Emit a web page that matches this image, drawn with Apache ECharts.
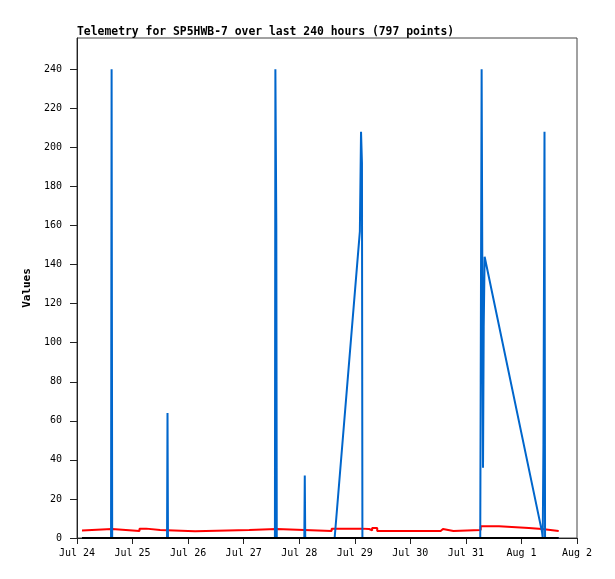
<!DOCTYPE html>
<html>
<head>
<meta charset="utf-8">
<script src="https://cdn.jsdelivr.net/npm/echarts@6/dist/echarts.min.js"></script>
<style>
  html, body { margin: 0; padding: 0; background: #fff; }
  #chart { width: 615px; height: 579px; }
</style>
</head>
<body>
<div id="chart"></div>
<script>
// hours since Jul 24 00:00
const dayLabels = ['Jul 24', 'Jul 25', 'Jul 26', 'Jul 27', 'Jul 28', 'Jul 29', 'Jul 30', 'Jul 31', 'Aug 1', 'Aug 2'];
const yTicks = [0, 20, 40, 60, 80, 100, 120, 140, 160, 180, 200, 220, 240];

// red series: [hour, value] at each step start (value held until next step)
const redSteps = [
    [2.15, 3.9], [2.9, 4.6], [15.1, 3.6], [27.0, 4.8], [29.9, 4.1], [35.9, 3.4],
    [51.0, 4.1], [74.4, 4.6], [86.2, 3.6], [110.0, 4.8], [122.7, 4.6], [126.2, 3.9],
    [127.5, 5.1], [129.7, 3.6], [157.1, 4.6], [158.1, 3.6], [162.6, 4.1], [174.4, 6.0],
    [182.3, 5.1], [195.2, 4.6], [200.9, 3.6], [208.1, 3.6],
];

// blue series
const bluePoints = [
    [2.15, 0], [14.7, 0], [14.95, 240], [15.2, 0],
    [38.9, 0], [39.1, 64], [39.3, 0],
    [85.5, 0], [85.7, 240], [86.1, 160], [86.3, 0],
    [98.2, 0], [98.4, 32], [98.6, 0],
    [111.3, 0], [122.2, 157], [122.7, 208], [123.1, 192], [123.3, 0],
    [174.2, 0], [174.4, 80], [174.8, 240], [175.4, 36], [175.7, 108], [176.1, 144],
    [200.9, 3], [201.2, 0], [201.5, 48], [201.96, 208], [202.2, 0],
    [208.1, 0],
];

// black series
const blackPoints = [[2.15, 0], [208.1, 0]];

// hold each value until the next sample
const toSteps = (pts) => {
    const out = [];
    pts.forEach((p, i) => {
        if (i > 0) out.push([p[0], pts[i - 1][1]]);
        out.push(p);
    });
    return out;
};

const chart = echarts.init(document.getElementById('chart'));
const mono = '"DejaVu Sans Mono", monospace';

chart.setOption({
    animation: false,
    backgroundColor: '#fff',
    title: {
        text: 'Telemetry for SP5HWB-7 over last 240 hours (797 points)',
        left: 72, top: 22,
        textStyle: { fontFamily: mono, fontSize: 11.4, fontWeight: 'bold', color: '#000' },
    },
    grid: {
        left: 77, right: 38, top: 38, bottom: 41,
        show: true, borderColor: '#444', borderWidth: 1, backgroundColor: 'transparent',
    },
    xAxis: {
        type: 'value', min: 0, max: 216, interval: 24,
        axisLine: { show: true, lineStyle: { color: '#222', width: 1 } },
        axisTick: { show: true, length: 6, lineStyle: { color: '#222' } },
        axisLabel: {
            fontFamily: mono, fontSize: 10, color: '#000', margin: 10,
            formatter: v => dayLabels[Math.round(v / 24)] || '',
        },
        splitLine: { show: false },
    },
    yAxis: {
        type: 'value', min: 0, max: 256,
        name: 'Values', nameLocation: 'middle', nameRotate: 90, nameGap: 40,
        nameTextStyle: { fontFamily: mono, fontSize: 11, fontWeight: 'bold', color: '#000' },
        axisLine: { show: true, lineStyle: { color: '#222', width: 1 } },
        axisTick: { show: true, length: 7, customValues: yTicks, lineStyle: { color: '#222' } },
        axisLabel: { fontFamily: mono, fontSize: 10, color: '#000', margin: 15, customValues: yTicks },
        splitLine: { show: false },
    },
    series: [
        {
            type: 'line', data: toSteps(redSteps), showSymbol: false,
            lineStyle: { color: '#ff0000', width: 2 },
        },
        {
            type: 'line', data: bluePoints, showSymbol: false,
            lineStyle: { color: '#0066cc', width: 2 },
        },
        {
            type: 'line', data: blackPoints, showSymbol: false,
            lineStyle: { color: '#000', width: 2 },
        },
    ],
});
</script>
</body>
</html>
